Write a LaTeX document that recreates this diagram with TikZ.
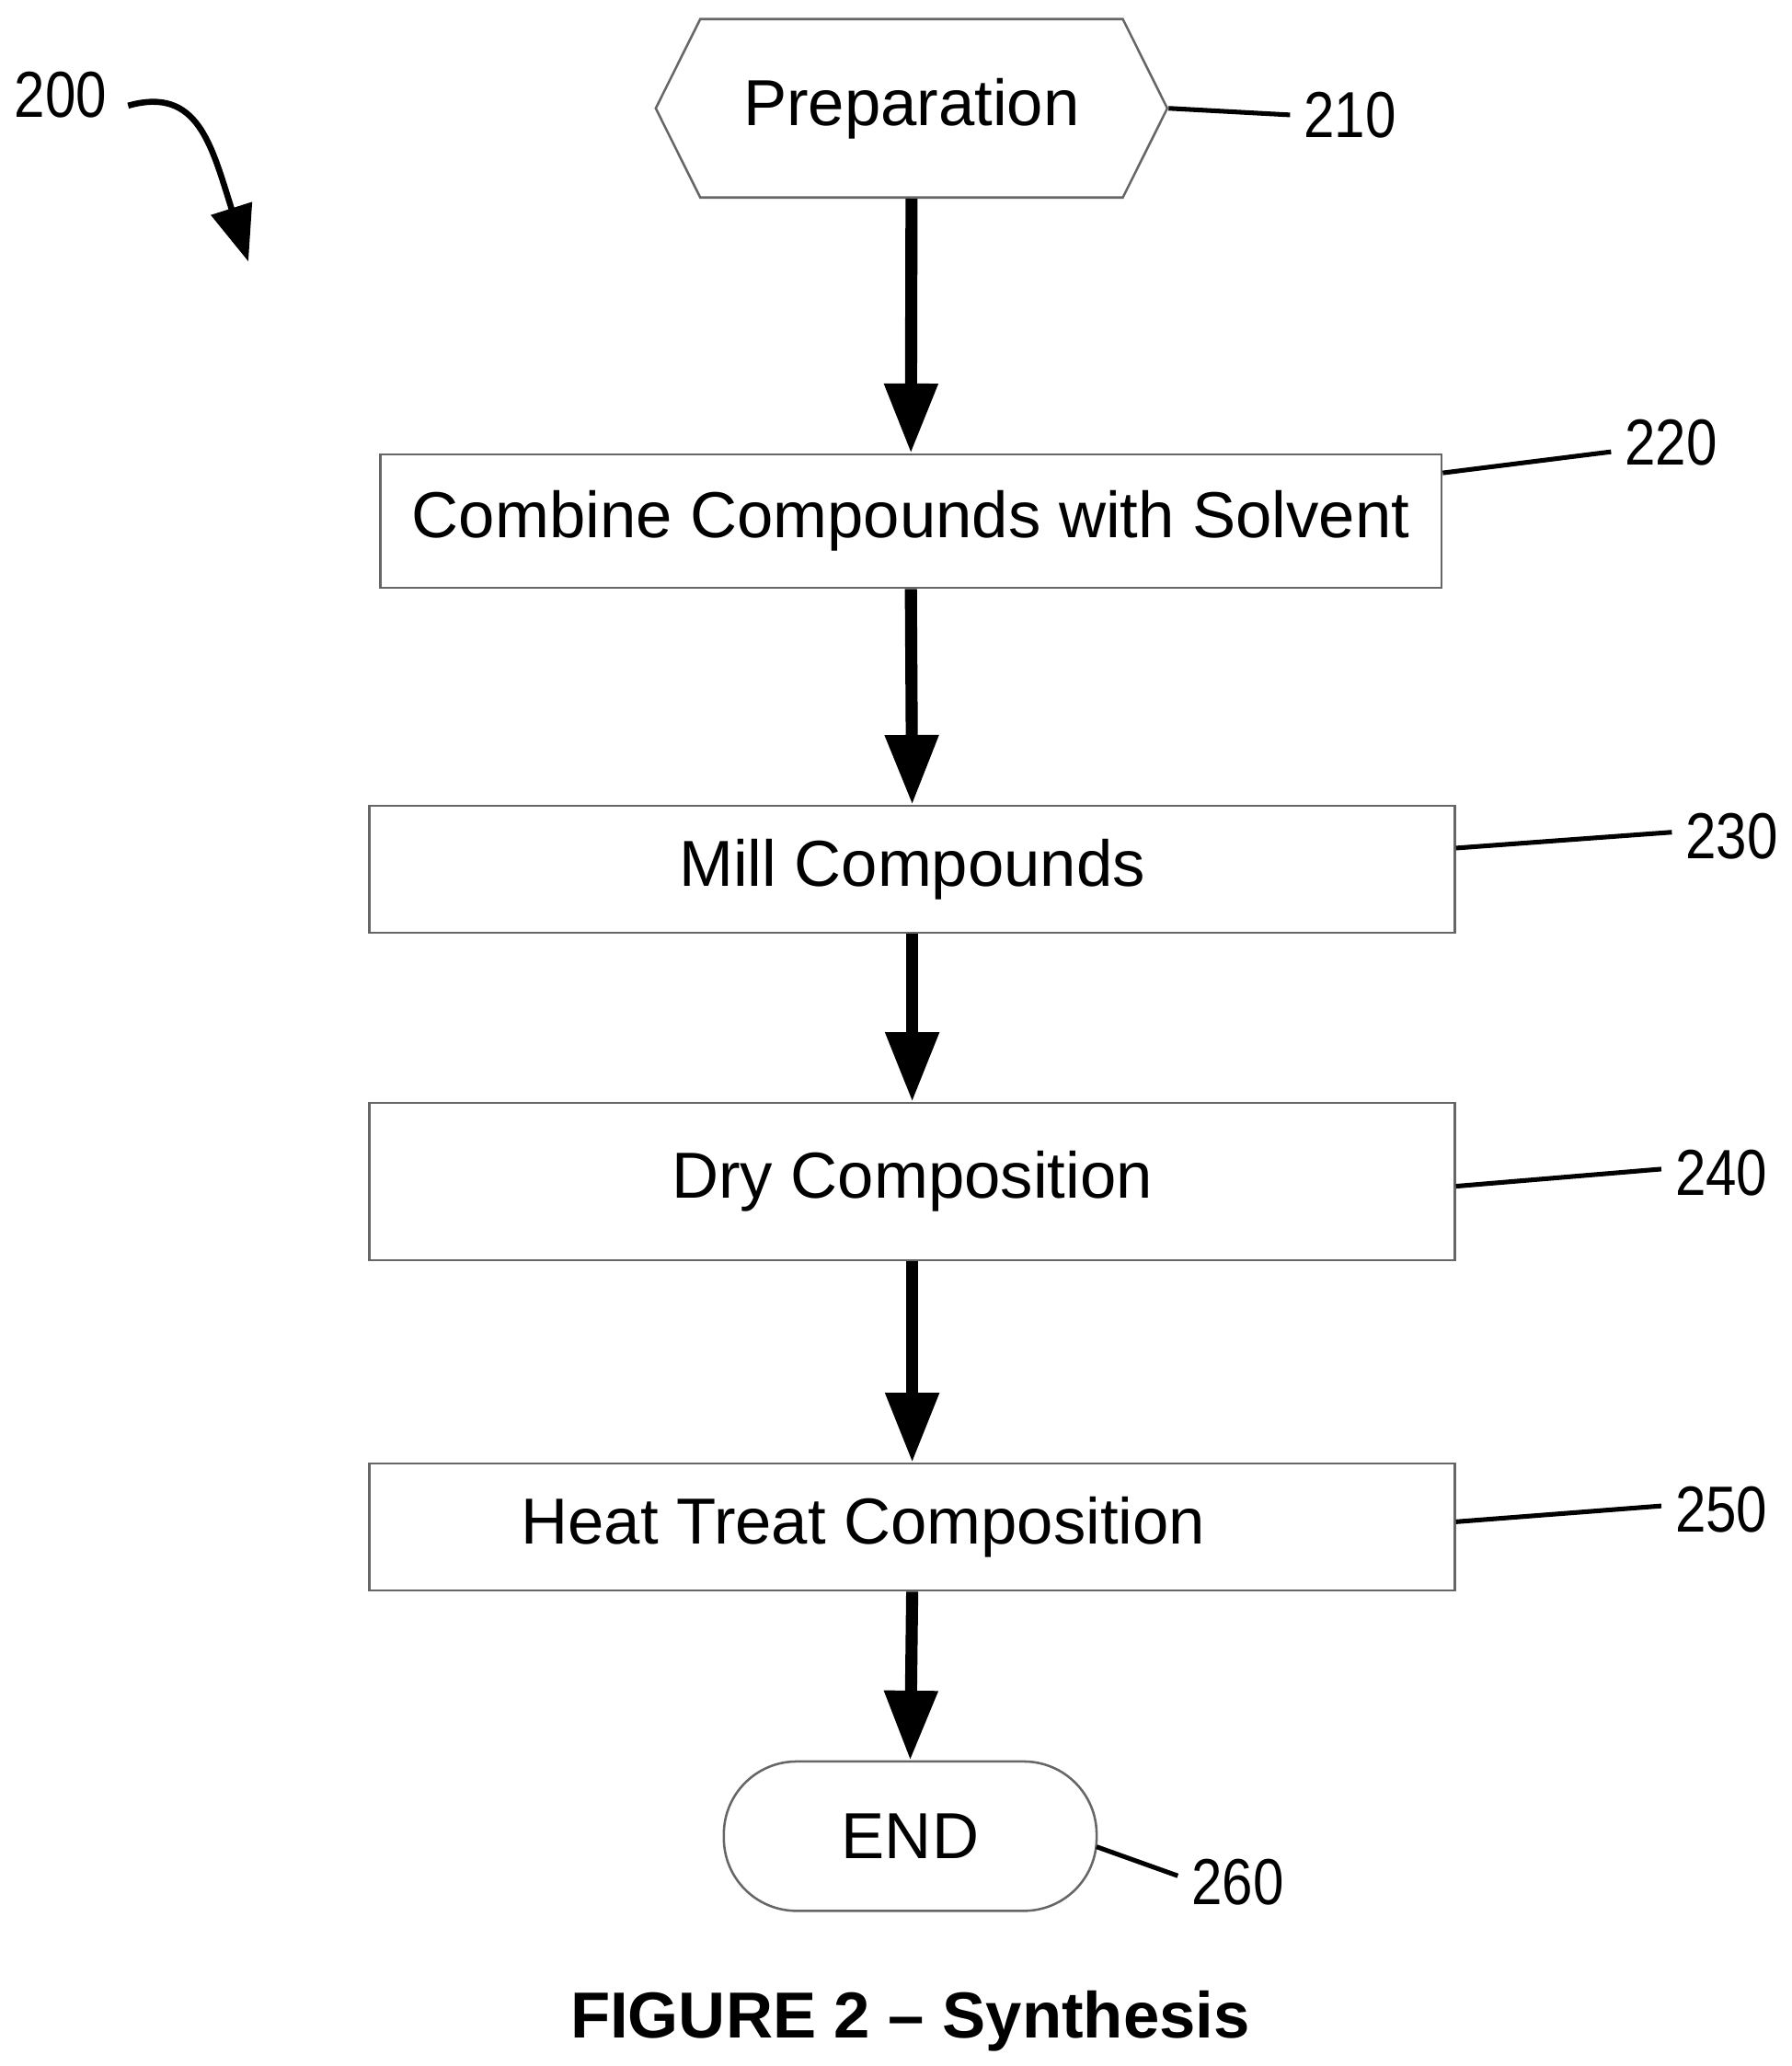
\documentclass[tikz,border=0pt]{standalone}
\usepackage{fontspec}
\setmainfont{Liberation Sans}
\usetikzlibrary{shapes.symbols,arrows.meta}
\tikzset{
  step/.style={draw=black!60,line width=0.5pt,minimum width=#1,minimum height=0.96cm,inner sep=0pt,font=\fontsize{14}{16}\selectfont},
  flow/.style={line width=2.6pt,-{Triangle[width=11pt,length=15pt]}},
  lead/.style={line width=1pt},
  num/.style={font=\fontsize{14}{16}\selectfont,xscale=0.85}
}
\begin{document}
\begin{tikzpicture}[x=0.01cm,y=-0.01cm]
\useasboundingbox (0,0) rectangle (1356,1564);
\node[signal,signal to=east and west,signal pointer angle=127,draw=black!60,line width=0.5pt,minimum width=3.87cm,minimum height=1.35cm,inner sep=0pt,font=\fontsize{14}{16}\selectfont] (prep) at (690,82) {Preparation};
\node[step=8.03cm,minimum height=1.01cm] (comb) at (689.5,394.5) {Combine Compounds with Solvent};
\node[step=8.21cm] (mill) at (690.5,658) {Mill Compounds};
\node[step=8.21cm,minimum height=1.19cm] (dry) at (690.5,894.5) {Dry Composition};
\node[step=8.21cm,label={[xshift=-0.37cm,font=\fontsize{14}{16}\selectfont]center:Heat Treat Composition}] (heat) at (690.5,1156) {};
\node[draw=black!60,line width=0.5pt,rounded corners=0.55cm,minimum width=2.82cm,minimum height=1.13cm,inner sep=0pt,font=\fontsize{14}{16}\selectfont] (end) at (689,1390) {END};
% arrows
\draw[flow] (prep.south) -- (comb.north);
\draw[flow] (comb.south) -- (mill.north);
\draw[flow] (mill.south) -- (dry.north);
\draw[flow] (dry.south) -- (heat.north);
\draw[flow] (heat.south) -- (end.north);
% reference numerals
\node[num] (n210) at (1022,87) {210};
\node[num] (n220) at (1265,335) {220};
\node[num] (n230) at (1311,633) {230};
\node[num] (n240) at (1303,888) {240};
\node[num] (n250) at (1303,1143) {250};
\node[num] (n260) at (937,1425) {260};
\node[num] (n200) at (46,72) {200};
\draw[lead] (prep.east) -- (n210.west);
\draw[lead] (comb.east |- 0,358) -- (n220.west |- 0,342);
\draw[lead] (mill.east |- 0,642) -- (n230.west |- 0,630);
\draw[lead] (dry.east |- 0,898) -- (n240.west |- 0,885);
\draw[lead] (heat.east |- 0,1152) -- (n250.west |- 0,1140);
\draw[lead] (830,1398) -- (n260.west |- 0,1420);
\draw[line width=1.3pt,-{Triangle[width=9pt,length=12pt]}] (97,80) .. controls (150,65) and (160,110) .. (188,198);
\node[font=\bfseries\fontsize{14}{16}\selectfont] (cap) at (689,1530) {FIGURE 2 – Synthesis};
\end{tikzpicture}
\end{document}
